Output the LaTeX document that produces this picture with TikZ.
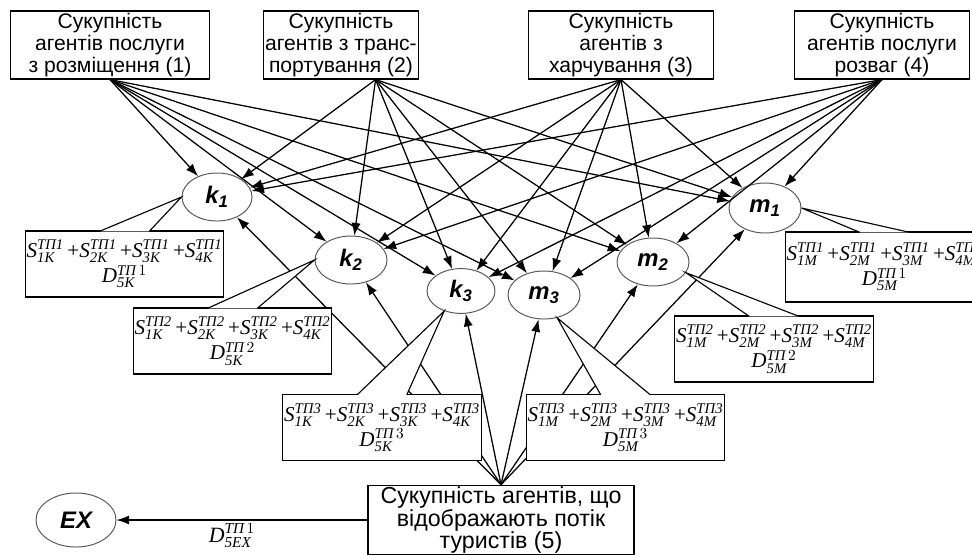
\documentclass[tikz,border=0pt]{standalone}
\usepackage{amsmath}
\usepackage{fontspec}
\setmainfont{Liberation Serif}
\setsansfont{Liberation Sans}
\usetikzlibrary{arrows.meta,positioning,shapes.geometric}

\newcommand{\Sterm}[2]{\textit{S}^{\textit{#1}}_{\textit{#2}}}
\newcommand{\Srow}[2]{$\Sterm{#1}{1#2}\,\text{+}\Sterm{#1}{2#2}\,\text{+}\Sterm{#1}{3#2}\,\text{+}\Sterm{#1}{4#2}$}
\newcommand{\Dterm}[2]{$\textit{D}^{\textit{ТП}\,#1}_{\textit{5#2}}$}

\begin{document}
\begin{tikzpicture}
  [x=0.025cm,y=-0.025cm,
    group/.style={rectangle,draw,line width=0.8pt,align=center,inner sep=1pt,minimum height=1.7cm,font=\sffamily\fontsize{15}{15.5}\selectfont},
    agent/.style={ellipse,draw=black!65,line width=0.7pt,inner sep=0pt,minimum width=1.8cm,minimum height=1.2cm,font=\sffamily\bfseries\itshape\fontsize{17}{17}\selectfont},
    formula/.style={rectangle,draw,fill=white,line width=0.8pt,align=center,inner sep=1pt,minimum width=4.88cm,minimum height=1.65cm,font=\fontsize{15}{18}\selectfont},
    wedge/.style={fill=white,line width=0.8pt},
    flowArrow/.style={-{Latex[length=9pt,width=6.5pt]},line width=0.9pt}]

  \useasboundingbox (0,0) rectangle (972,554);

  % groups of service agents
  \node[group,minimum width=4.98cm] (stay) at (110,45) {Сукупність\\агентів послуги\\з розміщення (1)};
  \node[group,minimum width=3.6cm] (move) at (341,45) {Сукупність\\агентів з транс-\\портування (2)};
  \node[group,minimum width=4.63cm] (food) at (621,45) {Сукупність\\агентів з\\харчування (3)};
  \node[group,minimum width=4.38cm] (fun) at (882,45) {Сукупність\\агентів послуги\\розваг (4)};

  % agents
  \node[agent,minimum width=1.75cm] (k1) at (217,197) {k\textsubscript{1}};
  \node[agent] (k2) at (351,260) {k\textsubscript{2}};
  \node[agent,minimum width=1.7cm,minimum height=1.12cm] (k3) at (461,291) {k\textsubscript{3}};
  \node[agent] (m3) at (544,295) {m\textsubscript{3}};
  \node[agent] (m2) at (653,262) {m\textsubscript{2}};
  \node[agent,minimum height=1.25cm] (m1) at (765,208) {m\textsubscript{1}};

  % tourists
  \node[group,minimum width=6.65cm,minimum height=1.65cm,font=\sffamily\fontsize{16.5}{15.5}\selectfont] (tour) at (501,520) {Сукупність агентів, що\\відображають потік\\туристів (5)};
  \node[agent,minimum width=2cm,minimum height=1.35cm] (ex) at (76,520) {EX};

  % flows
  \foreach \src/\out in {stay/south,move/-45,food/south,fun/south}
    \foreach \dst in {k1,k2,k3,m3,m2,m1}
      \draw[flowArrow] (\src.\out) -- (\dst);
  \foreach \dst in {k1,k2,k3,m3,m2,m1}
    \draw[flowArrow] (tour.north) -- (\dst);
  \draw[flowArrow] (tour) -- node[pos=0.54,below=-1pt,font=\fontsize{15.5}{18}\selectfont] {\Dterm{1}{EX}} (ex);

  % sums at agents
  \node[formula] (sk1) at (124.5,264) {\Srow{ТП1}{K}\\\Dterm{1}{K}};
  \node[formula] (sk2) at (232.5,341) {\Srow{ТП2}{K}\\\Dterm{2}{K}};
  \node[formula] (sk3) at (382,427.5) {\Srow{ТП3}{K}\\\Dterm{3}{K}};
  \node[formula] (sm3) at (625.5,427.5) {\Srow{ТП3}{M}\\\Dterm{3}{M}};
  \node[formula] (sm2) at (774,349) {\Srow{ТП2}{M}\\\Dterm{2}{M}};
  \node[formula,minimum height=1.75cm] (sm1) at (884.5,267) {\Srow{ТП1}{M}\\\Dterm{1}{M}};

  \foreach \sumnode/\tipat in {sk1/k1.west,sk2/k2.west,sk3/k3.-130,sm3/m3.-60,sm2/m2.-18,sm1/m1.east}
    \filldraw[wedge] ([shift={(-0.62cm,-0.6pt)}]\sumnode.north) -- (\tipat) -- ([shift={(0.62cm,-0.6pt)}]\sumnode.north);
\end{tikzpicture}
\end{document}
